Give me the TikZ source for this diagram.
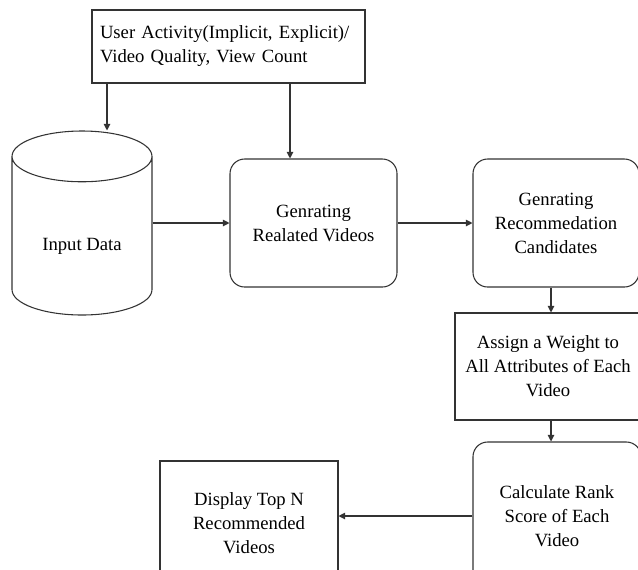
\documentclass[tikz,border=0pt]{standalone}
\usepackage{fontspec}
\setmainfont{Liberation Serif}
\usetikzlibrary{shapes.geometric,arrows.meta}
\tikzset{%
  flowline/.style={draw=black!80, line width=0.8pt},
  arr/.style={flowline, -{Triangle[length=5pt,width=5pt]}},
  plainbox/.style={flowline, rectangle, align=center, inner sep=0pt,
    font=\fontsize{14}{18}\selectfont},
  roundbox/.style={plainbox, rounded corners=11pt},
  database/.style={flowline, cylinder, shape border rotate=90, aspect=0.64,
    minimum width=105pt, minimum height=138pt, inner sep=0pt,
    font=\fontsize{14}{18}\selectfont}
}
\begin{document}
\begin{tikzpicture}[x=0.75pt, y=-0.75pt]
  \clip (0,0) rectangle (638,569);
  % sources
  \node[plainbox, minimum width=204.75pt, minimum height=54.75pt,
    text width=192.75pt, align=left] (activity) at (228.5,46.5)
    {User Activity(Implicit, Explicit)/\\Video Quality, View Count};
  \node[database, anchor=shape center] (input) at (82,223)
    {\raisebox{-8pt}[\height][\depth]{Input Data}};
  % processing steps
  \node[roundbox, minimum width=125.25pt, minimum height=96pt] (rel) at (313.5,223)
    {Genrating\\Realated Videos};
  \node[roundbox, minimum width=124.5pt, minimum height=96pt] (cand) at (556,223)
    {Genrating\\Recommedation\\Candidates};
  \node[plainbox, minimum width=139.5pt, minimum height=80.25pt] (weight) at (548,366.5)
    {Assign a Weight to\\All Attributes of Each\\Video};
  \node[roundbox, minimum width=126pt, minimum height=111pt] (rank) at (557,516)
    {Calculate Rank\\Score of Each\\Video};
  \node[plainbox, minimum width=133.5pt, minimum height=93pt] (display) at (249,523)
    {Display Top N\\Recommended\\Videos};
  % arrow columns
  \coordinate (d1) at (107,0);
  \coordinate (d2) at (290,0);
  \coordinate (d3) at (551,0);
  \draw[arr] (activity.south -| d1) -- (input.north -| d1);
  \draw[arr] (activity.south -| d2) -- (rel.north -| d2);
  \draw[arr] (input.east |- rel.west) -- (rel.west);
  \draw[arr] (rel.east) -- (cand.west);
  \draw[arr] (cand.south -| d3) -- (weight.north -| d3);
  \draw[arr] (weight.south -| d3) -- (rank.north -| d3);
  \draw[arr] (rank.west) -- (rank.west -| display.east);
\end{tikzpicture}
\end{document}
